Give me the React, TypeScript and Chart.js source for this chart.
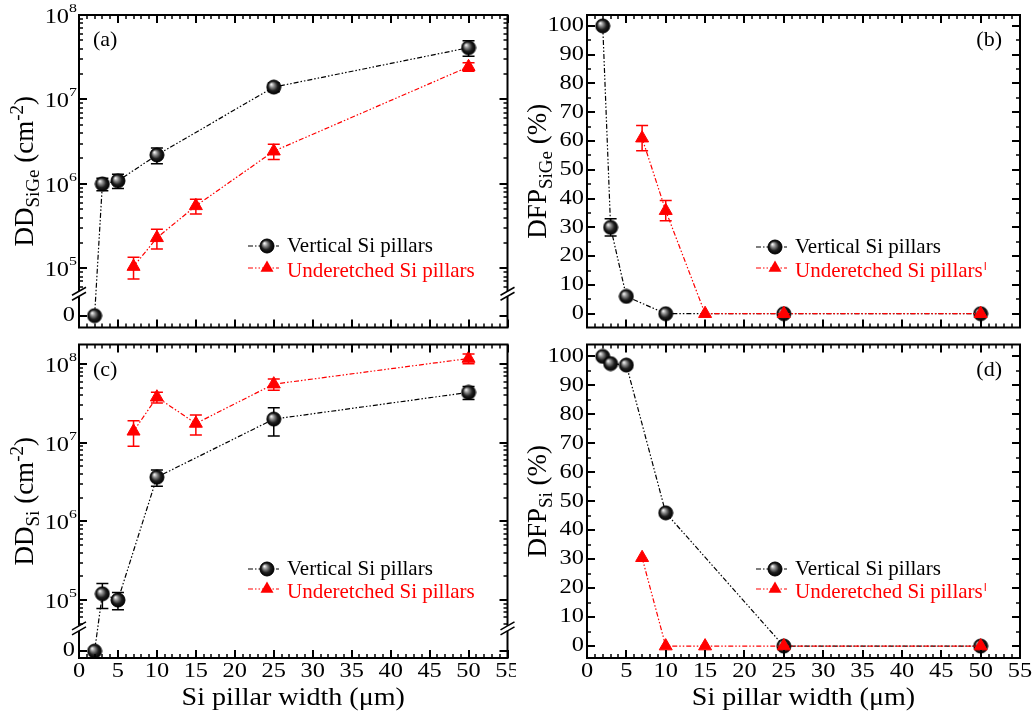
import React, { useEffect, useRef } from "react";
import { Chart, registerables } from "chart.js";

Chart.register(...registerables);

// Pillar widths (µm)
const verticalWidths = [2, 3, 5, 10, 25, 50];
const underetchedWidths = [7, 10, 15, 25, 50];

// (a) dislocation density in the SiGe layer (cm^-2), with ± error
const ddSiGeVertical = [0, 1.0e6, 1.09e6, 2.2e6, 1.4e7, 4.1e7];
const ddSiGeVerticalErr = [0, 0.17e6, 0.21e6, 0.47e6, 0.17e7, 0.85e7];
const ddSiGeUnder = [1.05e5, 2.3e5, 5.5e5, 2.44e6, 2.44e7];
const ddSiGeUnderErr = [0.3e5, 0.6e5, 1.1e5, 0.5e6, 0.28e7];

// (b) defect-free pillars in SiGe (%)
const dfpSiGeVertical = [100, 30, 6, 0, 0, 0];
const dfpSiGeVerticalErr = [0, 3, 0, 0, 0, 0];
const dfpSiGeUnder = [61, 35.8, 0, 0, 0];
const dfpSiGeUnderErr = [4.4, 3.5, 0, 0, 0];

// (c) dislocation density in Si (cm^-2)
const ddSiVertical = [0, 1.2e5, 1.0e5, 3.65e6, 2.0e7, 4.37e7];
const ddSiVerticalErr = [0, 0.42e5, 0.25e5, 0.85e6, 0.78e7, 0.83e7];
const ddSiUnder = [1.4e7, 3.8e7, 1.76e7, 5.57e7, 1.18e8];
const ddSiUnderErr = [0.5e7, 0.6e7, 0.5e7, 0.9e7, 0.17e8];

// (d) defect-free pillars in Si (%)
const dfpSiVertical = [100, 97.5, 97, 46, 0, 0];
const dfpSiUnder = [30.5, 0, 0, 0, 0];

// Axis tick labels
const xTickLabels = [0, 5, 10, 15, 20, 25, 30, 35, 40, 45, 50, 55];
const percentTickLabels = [0, 10, 20, 30, 40, 50, 60, 70, 80, 90, 100];
const decadeExponents = [5, 6, 7, 8];
const legendLabels = ["Vertical Si pillars", "Underetched Si pillars"];
const xTitle = "Si pillar width (μm)";

type Part = [string, "" | "sub" | "sup"];

interface Panel {
  letter: string;
  box: { left: number; top: number; width: number; height: number };
  area: { left: number; top: number; right: number; bottom: number };
  log: boolean;
  yMin: number;
  yMax: number;
  zeroAt?: number;
  breakAt?: number;
  yTitle: Part[];
  titleGap: number;
  showX: boolean;
  letterRight: boolean;
  vertical: number[];
  verticalErr?: number[];
  under: number[];
  underErr?: number[];
  legendBase: number[];
  pipe: boolean;
}

const RED = "#ff0000";
const BLACK = "#000000";
const DASH = [5, 2, 1.5, 2, 1.5, 2];
const SERIF = '"Liberation Serif", "Times New Roman", serif';
const TICK_STRETCH = 1.22;

const panels: Panel[] = [
  {
    letter: "(a)",
    box: { left: 0, top: 0, width: 516, height: 336 },
    area: { left: 79, top: 15, right: 512, bottom: 332 },
    log: true,
    yMin: Math.pow(10, 4.3),
    yMax: 1e8,
    zeroAt: Math.pow(10, 4.44),
    breakAt: Math.pow(10, 4.7),
    yTitle: [["DD", ""], ["SiGe", "sub"], [" (cm", ""], ["-2", "sup"], [")", ""]],
    titleGap: 46,
    showX: false,
    letterRight: false,
    vertical: ddSiGeVertical,
    verticalErr: ddSiGeVerticalErr,
    under: ddSiGeUnder,
    underErr: ddSiGeUnderErr,
    legendBase: [252, 277],
    pipe: false,
  },
  {
    letter: "(b)",
    box: { left: 516, top: 0, width: 517, height: 336 },
    area: { left: 587, top: 15, right: 1020, bottom: 332 },
    log: false,
    yMin: -4.8,
    yMax: 103.8,
    yTitle: [["DFP", ""], ["SiGe", "sub"], [" (%)", ""]],
    titleGap: 41,
    showX: false,
    letterRight: true,
    vertical: dfpSiGeVertical,
    verticalErr: dfpSiGeVerticalErr,
    under: dfpSiGeUnder,
    underErr: dfpSiGeUnderErr,
    legendBase: [253, 277],
    pipe: true,
  },
  {
    letter: "(c)",
    box: { left: 0, top: 336, width: 516, height: 380 },
    area: { left: 79, top: 339, right: 512, bottom: 658 },
    log: true,
    yMin: Math.pow(10, 4.2625),
    yMax: Math.pow(10, 8.25),
    zeroAt: Math.pow(10, 4.35),
    breakAt: Math.pow(10, 4.64),
    yTitle: [["DD", ""], ["Si", "sub"], [" (cm", ""], ["-2", "sup"], [")", ""]],
    titleGap: 46,
    showX: true,
    letterRight: false,
    vertical: ddSiVertical,
    verticalErr: ddSiVerticalErr,
    under: ddSiUnder,
    underErr: ddSiUnderErr,
    legendBase: [575, 598],
    pipe: false,
  },
  {
    letter: "(d)",
    box: { left: 516, top: 336, width: 517, height: 380 },
    area: { left: 587, top: 339, right: 1020, bottom: 658 },
    log: false,
    yMin: -4.1,
    yMax: 104.1,
    yTitle: [["DFP", ""], ["Si", "sub"], [" (%)", ""]],
    titleGap: 41,
    showX: true,
    letterRight: true,
    vertical: dfpSiVertical,
    under: dfpSiUnder,
    legendBase: [575, 598],
    pipe: true,
  },
];

function makeSphere(r: number): HTMLCanvasElement {
  const c = document.createElement("canvas");
  const s = Math.ceil(r * 2 + 2);
  c.width = s;
  c.height = s;
  const g = c.getContext("2d")!;
  const cx = s / 2;
  const grad = g.createRadialGradient(cx - r * 0.38, cx - r * 0.4, r * 0.05, cx, cx, r);
  grad.addColorStop(0, "#f4f4f4");
  grad.addColorStop(0.3, "#8a8a8a");
  grad.addColorStop(0.65, "#202020");
  grad.addColorStop(1, "#000000");
  g.fillStyle = grad;
  g.beginPath();
  g.arc(cx, cx, r, 0, Math.PI * 2);
  g.fill();
  g.strokeStyle = "#000";
  g.lineWidth = 1;
  g.stroke();
  return c;
}

function stretchedText(ctx: CanvasRenderingContext2D, text: string, x: number, y: number, sx: number) {
  ctx.save();
  ctx.translate(x, y);
  ctx.scale(sx, 1);
  ctx.fillText(text, 0, 0);
  ctx.restore();
}

function drawParts(ctx: CanvasRenderingContext2D, parts: Part[], size: number) {
  // measures and draws a run of text with sub/superscripts centred on x = 0, baseline y = 0
  const widths = parts.map(([t, k]) => {
    ctx.font = `${k ? Math.round(size * 0.7) : size}px ${SERIF}`;
    return ctx.measureText(t).width;
  });
  const total = widths.reduce((a, b) => a + b, 0);
  let x = -total / 2;
  ctx.textAlign = "left";
  ctx.textBaseline = "alphabetic";
  parts.forEach(([t, k], i) => {
    ctx.font = `${k ? Math.round(size * 0.7) : size}px ${SERIF}`;
    const dy = k === "sub" ? size * 0.22 : k === "sup" ? -size * 0.38 : 0;
    ctx.fillText(t, x, dy);
    x += widths[i];
  });
}

function triangle(ctx: CanvasRenderingContext2D, x: number, y: number, r: number) {
  ctx.beginPath();
  for (let i = 0; i < 3; i++) {
    const a = (i * 2 * Math.PI) / 3;
    const px = x + Math.sin(a) * r;
    const py = y - Math.cos(a) * r;
    if (i === 0) ctx.moveTo(px, py);
    else ctx.lineTo(px, py);
  }
  ctx.closePath();
  ctx.fill();
}

function makeDecor(p: Panel, sphere: HTMLCanvasElement) {
  const plotY = (v: number) => (p.log && v === 0 && p.zeroAt ? p.zeroAt : v);
  return {
    id: "decor" + p.letter.replace(/[()]/g, ""),
    beforeDatasetsDraw(chart: any) {
      const ctx: CanvasRenderingContext2D = chart.ctx;
      const xs = chart.scales.x;
      const ys = chart.scales.y;
      const bars = (xv: number[], yv: number[], ev: number[] | undefined, color: string) => {
        if (!ev) return;
        ctx.save();
        ctx.strokeStyle = color;
        ctx.lineWidth = 1.5;
        xv.forEach((x, i) => {
          const e = ev[i];
          if (!e) return;
          const px = xs.getPixelForValue(x);
          const t = ys.getPixelForValue(yv[i] + e);
          const b = ys.getPixelForValue(Math.max(yv[i] - e, p.log ? 1 : -1e9));
          ctx.beginPath();
          ctx.moveTo(px, t);
          ctx.lineTo(px, b);
          ctx.moveTo(px - 6, t);
          ctx.lineTo(px + 6, t);
          ctx.moveTo(px - 6, b);
          ctx.lineTo(px + 6, b);
          ctx.stroke();
        });
        ctx.restore();
      };
      bars(verticalWidths, p.vertical.map(plotY), p.verticalErr, BLACK);
      bars(underetchedWidths, p.under.map(plotY), p.underErr, RED);
    },
    afterDatasetsDraw(chart: any) {
      const ctx: CanvasRenderingContext2D = chart.ctx;
      const xs = chart.scales.x;
      const ys = chart.scales.y;
      const a = chart.chartArea;
      const L = a.left, R = a.right, T = a.top, B = a.bottom;
      ctx.save();
      ctx.strokeStyle = BLACK;
      ctx.fillStyle = BLACK;
      ctx.setLineDash([]);

      const seg = (x1: number, y1: number, x2: number, y2: number, w: number) => {
        ctx.lineWidth = w;
        ctx.beginPath();
        ctx.moveTo(x1, y1);
        ctx.lineTo(x2, y2);
        ctx.stroke();
      };

      // frame
      ctx.lineWidth = 2;
      ctx.strokeRect(L, T, R - L, B - T);

      // x ticks, inward on bottom and top
      for (let v = 0; v <= 55; v++) {
        const px = Math.round(xs.getPixelForValue(v));
        const major = v % 5 === 0;
        const len = major ? 8 : 4;
        seg(px, B, px, B - len, major ? 2 : 1.5);
        seg(px, T, px, T + len, major ? 2 : 1.5);
      }

      // y ticks, inward on left and right
      const yTick = (val: number, major: boolean) => {
        const py = Math.round(ys.getPixelForValue(val));
        const len = major ? 8 : 4;
        seg(L, py, L + len, py, major ? 2 : 1.5);
        seg(R, py, R - len, py, major ? 2 : 1.5);
      };
      if (p.log) {
        decadeExponents.forEach((e) => {
          const v = Math.pow(10, e);
          if (v >= p.yMin && v <= p.yMax) yTick(v, true);
        });
        for (let e = 4; e <= 8; e++) {
          for (let m = 2; m <= 9; m++) {
            const v = m * Math.pow(10, e);
            if (v > (p.breakAt as number) * 1.08 && v < p.yMax) yTick(v, false);
          }
        }
        yTick(p.zeroAt as number, true);
      } else {
        for (let v = 0; v <= 100; v += 5) yTick(v, v % 10 === 0);
      }

      // axis break marks
      if (p.log && p.breakAt) {
        const by = ys.getPixelForValue(p.breakAt);
        [L, R].forEach((ax) => {
          ctx.fillStyle = "#ffffff";
          ctx.fillRect(ax - 2, by - 2.5, 4, 5);
          ctx.strokeStyle = BLACK;
          [-2.5, 2.5].forEach((off) => seg(ax - 7, by + off + 4, ax + 7, by + off - 4, 1.6));
        });
        ctx.fillStyle = BLACK;
      }

      // y tick labels
      ctx.fillStyle = BLACK;
      if (p.log) {
        decadeExponents.forEach((e) => {
          const v = Math.pow(10, e);
          if (v < p.yMin || v > p.yMax) return;
          const py = ys.getPixelForValue(v);
          ctx.textAlign = "right";
          ctx.textBaseline = "alphabetic";
          ctx.font = `13px ${SERIF}`;
          const sup = String(e);
          const supW = ctx.measureText(sup).width * TICK_STRETCH;
          const right = L - 2;
          stretchedText(ctx, sup, right, py - 3, TICK_STRETCH);
          ctx.font = `20px ${SERIF}`;
          stretchedText(ctx, "10", right - supW, py + 8, TICK_STRETCH);
        });
        const pz = ys.getPixelForValue(p.zeroAt as number);
        ctx.font = `20px ${SERIF}`;
        ctx.textAlign = "right";
        ctx.textBaseline = "middle";
        stretchedText(ctx, "0", L - 4, pz, TICK_STRETCH);
      } else {
        ctx.font = `20px ${SERIF}`;
        ctx.textAlign = "right";
        ctx.textBaseline = "middle";
        percentTickLabels.forEach((v) => {
          stretchedText(ctx, String(v), L - 3, ys.getPixelForValue(v), TICK_STRETCH);
        });
      }

      // x tick labels and axis title
      if (p.showX) {
        ctx.font = `20px ${SERIF}`;
        ctx.textAlign = "center";
        ctx.textBaseline = "middle";
        xTickLabels.forEach((v) => {
          stretchedText(ctx, String(v), xs.getPixelForValue(v), B + 14, TICK_STRETCH);
        });
        ctx.font = `26px ${SERIF}`;
        ctx.textBaseline = "alphabetic";
        stretchedText(ctx, xTitle, (L + R) / 2, B + 47, 1.08);
      }

      // y axis title
      ctx.save();
      ctx.translate(L - p.titleGap, (T + B) / 2);
      ctx.rotate(-Math.PI / 2);
      drawParts(ctx, p.yTitle, 27);
      ctx.restore();

      // panel letter
      ctx.font = `22px ${SERIF}`;
      ctx.textBaseline = "alphabetic";
      if (p.letterRight) {
        ctx.textAlign = "right";
        ctx.fillText(p.letter, R - 18, T + 31);
      } else {
        ctx.textAlign = "left";
        ctx.fillText(p.letter, L + 14, T + 31);
      }

      // legend
      const off = chart.canvas.getBoundingClientRect ? 0 : 0;
      const topShift = p.box.top;
      const lx0 = L + 169;
      const lx1 = L + 200;
      const mx = L + 188;
      const tx = L + 208;
      legendLabels.forEach((label, i) => {
        const base = p.legendBase[i] - topShift + off;
        const color = i === 0 ? BLACK : RED;
        const my = i === 0 ? base - 6 : base - 9;
        ctx.strokeStyle = color;
        ctx.lineWidth = 1.2;
        ctx.setLineDash(DASH);
        ctx.beginPath();
        ctx.moveTo(lx0, my);
        ctx.lineTo(lx1, my);
        ctx.stroke();
        ctx.setLineDash([]);
        if (i === 0) {
          ctx.drawImage(sphere, mx - sphere.width / 2, my - sphere.height / 2);
        } else {
          ctx.fillStyle = RED;
          triangle(ctx, mx, my, 7.5);
        }
        ctx.fillStyle = color;
        ctx.font = `21px ${SERIF}`;
        ctx.textAlign = "left";
        ctx.textBaseline = "alphabetic";
        ctx.fillText(label, tx, base);
        if (i === 1 && p.pipe) {
          const w = ctx.measureText(label).width;
          ctx.strokeStyle = RED;
          seg(tx + w + 2.5, base - 15, tx + w + 2.5, base - 7, 1);
        }
      });
      ctx.restore();
    },
  };
}

function PanelChart({ p }: { p: Panel }) {
  const ref = useRef<HTMLCanvasElement | null>(null);
  useEffect(() => {
    if (!ref.current) return;
    const sphere = makeSphere(7);
    const plotY = (v: number) => (p.log && v === 0 && p.zeroAt ? p.zeroAt : v);
    const chart = new Chart(ref.current, {
      type: "scatter",
      data: {
        datasets: [
          {
            label: legendLabels[1],
            data: p.under.map((v, i) => ({ x: underetchedWidths[i], y: plotY(v) })),
            showLine: true,
            borderColor: RED,
            borderWidth: 1.2,
            borderDash: DASH,
            pointStyle: "triangle",
            pointRadius: 7.5,
            pointBackgroundColor: RED,
            pointBorderColor: RED,
            pointBorderWidth: 1,
            tension: 0,
            clip: 12,
          } as any,
          {
            label: legendLabels[0],
            data: p.vertical.map((v, i) => ({ x: verticalWidths[i], y: plotY(v) })),
            showLine: true,
            borderColor: BLACK,
            borderWidth: 1.2,
            borderDash: DASH,
            pointStyle: sphere,
            pointRadius: 7,
            tension: 0,
            clip: 12,
          } as any,
        ],
      },
      options: {
        responsive: false,
        maintainAspectRatio: false,
        animation: false,
        events: [],
        layout: {
          padding: {
            left: p.area.left - p.box.left,
            top: p.area.top - p.box.top,
            right: p.box.left + p.box.width - p.area.right,
            bottom: p.box.top + p.box.height - p.area.bottom,
          },
        },
        plugins: { legend: { display: false }, tooltip: { enabled: false } },
        scales: {
          x: { type: "linear", min: 0, max: 55, display: false },
          y: { type: p.log ? "logarithmic" : "linear", min: p.yMin, max: p.yMax, display: false },
        },
      } as any,
      plugins: [makeDecor(p, sphere)],
    });
    return () => chart.destroy();
  }, [p]);
  return (
    <canvas
      ref={ref}
      width={p.box.width}
      height={p.box.height}
      style={{
        position: "absolute",
        left: p.box.left,
        top: p.box.top,
        width: p.box.width,
        height: p.box.height,
      }}
    />
  );
}

export default function App() {
  return (
    <div
      style={{
        position: "fixed",
        left: 0,
        top: 0,
        width: 1033,
        height: 716,
        background: "#ffffff",
        overflow: "hidden",
      }}
    >
      {panels.map((p) => (
        <PanelChart key={p.letter} p={p} />
      ))}
    </div>
  );
}
